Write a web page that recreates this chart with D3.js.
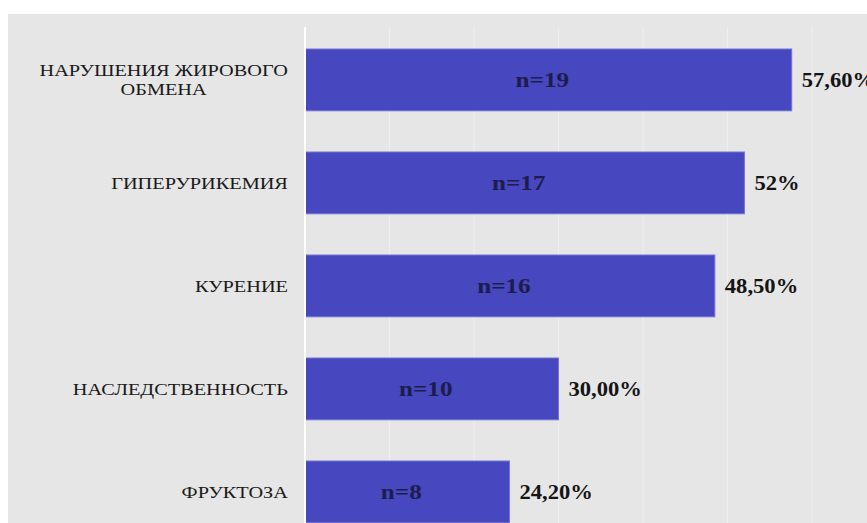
<!DOCTYPE html>
<html><head><meta http-equiv="Content-Type" content="text/html; charset=utf-8">
<script src="https://d3js.org/d3.v7.min.js"></script>
<style>
  body { margin: 0; background: #ffffff; }
  svg { display: block; }
</style>
</head>
<body>
<div class="chart"></div>
<script type="text/javascript">

    var categories = ["НАРУШЕНИЯ ЖИРОВОГО|ОБМЕНА", "ГИПЕРУРИКЕМИЯ", "КУРЕНИЕ", "НАСЛЕДСТВЕННОСТЬ", "ФРУКТОЗА"];
    var counts = [19, 17, 16, 10, 8];
    var percents = [57.6, 52, 48.5, 30, 24.2];
    var percentLabels = ["57,60%", "52%", "48,50%", "30,00%", "24,20%"];
    var gridTicks = [10, 20, 30, 40, 50, 60, 70];

    var width = 867;
    var height = 523;
    var serif = "'Liberation Serif', 'Times New Roman', serif";

    var svg = d3.select("div.chart")
        .append("svg")
        .attr("width", width)
        .attr("height", height)

    // grey plot area
    svg.append("rect")
        .attr("x", 8)
        .attr("y", 14)
        .attr("width", width - 8)
        .attr("height", height - 14)
        .style("fill", "#e6e6e6")

    var x = d3.scaleLinear()
        .domain([0, 70])
        .range([305, 896.5]);

    var y = d3.scaleBand()
        .domain(categories)
        .range([28.4, 543.4])
        .paddingInner(0.4)
        .paddingOuter(0.2);

    var rows = categories.map(function(c, i) {
        return {cat: c, n: counts[i], p: percents[i], label: percentLabels[i]};
    });

    function mid(d) { return y(d.cat) + y.bandwidth() / 2; }

    // ------------- GRID -------------
    svg.append("g")
        .selectAll("line")
        .data(gridTicks)
        .enter()
        .append("line")
        .attr("x1", function(d) { return x(d); })
        .attr("x2", function(d) { return x(d); })
        .attr("y1", 27)
        .attr("y2", height)
        .style("stroke", "#eeeeee")
        .style("stroke-width", 1)

    // ------------- BARS -------------
    svg.append("g")
        .selectAll("rect")
        .data(rows)
        .enter()
        .append("rect")
        .attr("x", x(0))
        .attr("y", function(d) { return y(d.cat); })
        .attr("width", function(d) { return x(d.p) - x(0); })
        .attr("height", y.bandwidth())
        .style("fill", "#4747bf")
        .style("stroke", "#7373d8")
        .style("stroke-width", 1)

    // axis line
    svg.append("line")
        .attr("x1", x(0))
        .attr("x2", x(0))
        .attr("y1", 27)
        .attr("y2", height)
        .style("stroke", "#ffffff")
        .style("stroke-width", 2)

    // n= labels inside bars (text in the picture is a bit stretched sideways)
    svg.append("g")
        .selectAll("text")
        .data(rows)
        .enter()
        .append("text")
        .attr("transform", function(d) {
            return "translate(" + ((x(0) + x(d.p)) / 2 - 6) + "," + mid(d) + ")scale(1.2,1)";
        })
        .attr("dy", "0.35em")
        .attr("text-anchor", "middle")
        .style("font-family", serif)
        .style("font-weight", "bold")
        .style("font-size", "21px")
        .style("fill", "#1d1d4d")
        .text(function(d) { return "n=" + d.n; })

    // percent labels
    svg.append("g")
        .selectAll("text")
        .data(rows)
        .enter()
        .append("text")
        .attr("transform", function(d) {
            return "translate(" + (x(d.p) + 10) + "," + mid(d) + ")scale(1.13,1)";
        })
        .attr("dy", "0.35em")
        .style("font-family", serif)
        .style("font-weight", "bold")
        .style("font-size", "20px")
        .style("fill", "#151515")
        .text(function(d) { return d.label; })

    // category labels (multi-line, centered block, right edge near axis)
    var sx = 1.27;
    var labels = svg.append("g")
        .selectAll("text")
        .data(rows)
        .enter()
        .append("text")
        .attr("text-anchor", "middle")
        .style("font-family", serif)
        .style("font-size", "16px")
        .style("fill", "#1a1a1a")

    labels.each(function(d) {
        var t = d3.select(this);
        var lines = d.cat.split("|");
        var lh = 20;
        lines.forEach(function(l, j) {
            t.append("tspan")
                .attr("x", 0)
                .attr("y", (j - (lines.length - 1) / 2) * lh)
                .attr("dy", "0.35em")
                .text(l);
        });
        var w = d3.max(t.selectAll("tspan").nodes(), function(n) { return n.getComputedTextLength(); });
        t.attr("transform", "translate(" + (288 - w * sx / 2) + "," + mid(d) + ")scale(" + sx + ",1)");
    });

</script>
</body></html>
